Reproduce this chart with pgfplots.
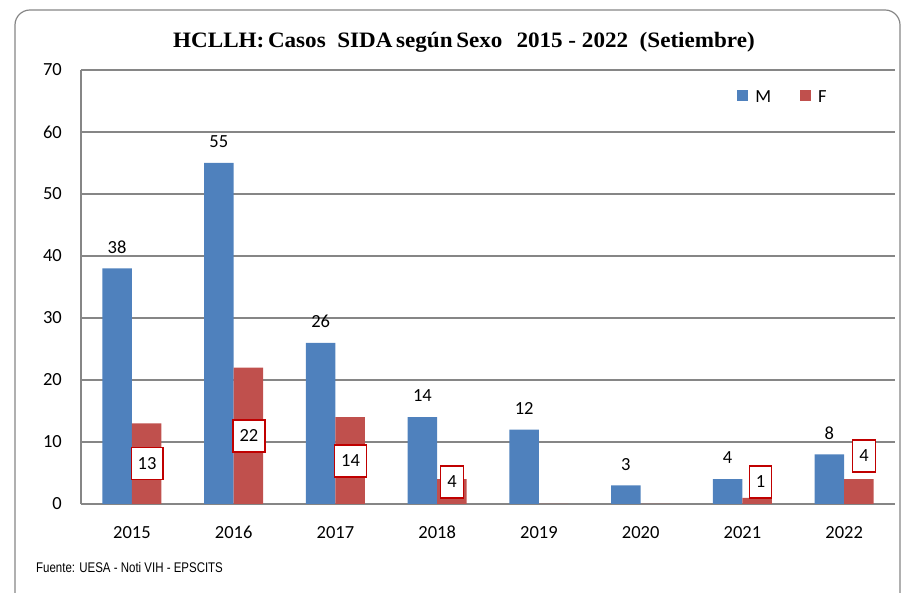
\documentclass[border=0pt]{standalone}
\usepackage{fontspec}
\setmainfont{Carlito}
\newfontfamily\titlefont[FakeStretch=1.05]{Liberation Serif}
\newfontfamily\notefont[FakeStretch=0.82]{Liberation Sans}
\usepackage{pgfplots}
\pgfplotsset{compat=1.18}
\definecolor{mblue}{HTML}{4F81BD}
\definecolor{fred}{HTML}{C0504D}
\definecolor{gridc}{HTML}{868686}
\definecolor{boxred}{HTML}{C00000}
\newcommand\lbl{\fontsize{18.5}{22}\selectfont}
\begin{document}
\begin{tikzpicture}[x=1pt,y=1pt]
\clip (0,0) rectangle (901,593);
\draw[gridc, line width=1.2pt, rounded corners=15pt] (15,583) rectangle (900,-30);
\begin{axis}[
  at={(81pt,89pt)}, anchor=south west, scale only axis,
  width=814pt, height=434pt,
  xmin=-0.5, xmax=7.5, ymin=0, ymax=70,
  ytick={0,10,20,30,40,50,60,70},
  xtick={0,1,2,3,4,5,6,7},
  xticklabels={2015,2016,2017,2018,2019,2020,2021,2022},
  axis lines=left,
  axis line style={-, draw=gridc, line width=1.2pt},
  ymajorgrids, grid style={draw=gridc, line width=1.2pt},
  major tick length=0pt,
  /pgf/number format/assume math mode=true,
  tick label style={font=\lbl},
  yticklabel style={anchor=east, inner sep=0pt, xshift=-19pt},
  xticklabel style={anchor=north, inner sep=0pt, yshift=-22pt},
  legend columns=2,
  legend style={at={(0.806,0.938)}, anchor=west, draw=none, fill=none,
    inner sep=0pt, nodes={inner sep=0pt, font=\lbl}, column sep=7pt,
    /tikz/every even column/.append style={column sep=29pt}},
]
\addplot[ybar, bar width=0.29, bar shift=-0.145, fill=mblue, draw=none,
  nodes near coords,
  every node near coord/.append style={font=\lbl, inner sep=0pt, anchor=south,
    xshift=-14.75pt, yshift=15pt, text=black},
  legend image code/.code={\fill[mblue] (0pt,-4pt) rectangle (11pt,7pt);}]
  coordinates {(0,38) (1,55) (2,26) (3,14) (4,12) (5,3) (6,4) (7,8)};
\addlegendentry{M}
\addplot[ybar, bar width=0.29, bar shift=0.145, fill=fred, draw=none,
  legend image code/.code={\fill[fred] (0pt,-4pt) rectangle (11pt,7pt);}]
  coordinates {(0,13) (1,22) (2,14) (3,4) (4,0) (5,0) (6,1) (7,4)};
\addlegendentry{F}
\addplot[draw=none, mark=none, forget plot, nodes near coords,
  point meta=explicit symbolic,
  every node near coord/.append style={font=\lbl, anchor=center, draw=boxred,
    line width=1.3pt, fill=white, text=black, inner xsep=6.5pt, inner ysep=0pt,
    minimum height=32pt}]
  coordinates {(0.149,6.53) [13] (1.151,10.97) [22] (2.149,6.94) [14]
               (3.146,3.55) [4] (6.178,3.55) [1] (7.195,7.74) [4]};
\end{axis}
\node[anchor=base, inner sep=0pt, font=\titlefont\bfseries\fontsize{22}{26}\selectfont]
  at (464,545) {HCLLH:\,Casos\ \ SIDA\,según\,Sexo\hspace{14pt}2015 - 2022\ \ (Setiembre)};
\node[anchor=base west, inner sep=0pt, font=\notefont\fontsize{14}{16}\selectfont]
  at (36,20) {Fuente: UESA - Noti VIH - EPSCITS};
\end{tikzpicture}
\end{document}
